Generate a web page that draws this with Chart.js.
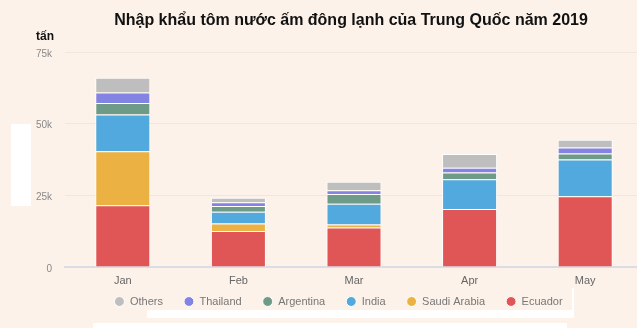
<!DOCTYPE html>
<html>
<head>
<meta charset="utf-8">
<script src="https://cdn.jsdelivr.net/npm/chart.js@4/dist/chart.umd.min.js"></script>
<style>
  html, body { margin: 0; padding: 0; background: #fdf2e9; overflow: hidden; }
  #wrap { position: absolute; left: 0; top: 0; width: 643px; height: 328px; }
  .blank { position: absolute; background: #ffffff; }
</style>
</head>
<body>
<div id="wrap"><canvas id="c"></canvas></div>
<div class="blank" style="left:11px;top:124px;width:20px;height:82px;"></div>
<div class="blank" style="left:147px;top:310px;width:426px;height:8px;"></div>
<div class="blank" style="left:572px;top:288px;width:2px;height:30px;"></div>
<div class="blank" style="left:93px;top:323px;width:474px;height:5px;"></div>
<script>
const months = ['Jan', 'Feb', 'Mar', 'Apr', 'May'];
const title = 'Nhập khẩu tôm nước ấm đông lạnh của Trung Quốc năm 2019';
const unitLabel = 'tấn';
const yTicks = [0, 25000, 50000, 75000];

// Imports in tonnes by origin
const ecuador     = [21500, 12600, 13800, 20200, 24700];
const saudiArabia = [18900,  2600,  1000,     0,     0];
const india       = [12800,  4100,  7300, 10400, 12800];
const argentina   = [ 4000,  2000,  3400,  2400,  2100];
const thailand    = [ 3700,  1300,  1300,  1600,  2100];
const others      = [ 5100,  1600,  2900,  4800,  2700];

const series = [
  { label: 'Ecuador',      data: ecuador,     color: '#e05656' },
  { label: 'Saudi Arabia', data: saudiArabia, color: '#ecb143' },
  { label: 'India',        data: india,       color: '#51a9dd' },
  { label: 'Argentina',    data: argentina,   color: '#6e9b87' },
  { label: 'Thailand',     data: thailand,    color: '#8383e3' },
  { label: 'Others',       data: others,      color: '#bebebe' }
];

const FONT = '"Liberation Sans", Arial, sans-serif';

// Title and unit caption above the plot
const headerText = {
  id: 'headerText',
  afterDraw(chart) {
    const ctx = chart.ctx;
    ctx.save();
    ctx.fillStyle = '#111';
    ctx.textAlign = 'center';
    ctx.textBaseline = 'middle';
    ctx.font = 'bold 16px ' + FONT;
    ctx.fillText(title, 351, 21);
    ctx.font = 'bold 12px ' + FONT;
    ctx.fillText(unitLabel, 45, 37);
    ctx.restore();
  }
};

// Pull the legend row up so it sits close under the month labels
const legendLift = {
  id: 'legendLift',
  afterLayout(chart) {
    const lg = chart.legend;
    if (lg) { lg.top -= 13; lg.bottom -= 13; }
  }
};

new Chart(document.getElementById('c'), {
  type: 'bar',
  data: {
    labels: months,
    datasets: series.map(s => ({
      label: s.label,
      data: s.data,
      backgroundColor: s.color,
      borderColor: '#ffffff',
      borderWidth: 1,
      categoryPercentage: 1,
      barPercentage: 0.476
    }))
  },
  options: {
    responsive: true,
    maintainAspectRatio: false,
    animation: false,
    layout: { padding: { left: 34, right: 0, top: 52, bottom: -2 } },
    plugins: {
      title: { display: false },
      tooltip: { enabled: false },
      legend: {
        position: 'bottom',
        reverse: true,
        labels: {
          usePointStyle: true,
          pointStyle: 'circle',
          boxWidth: 10,
          boxHeight: 7,
          padding: 21,
          color: '#777',
          font: { family: FONT, size: 11 }
        }
      }
    },
    scales: {
      x: {
        stacked: true,
        grid: { display: false, drawTicks: false },
        border: { display: true, color: '#dcdde4', width: 2 },
        ticks: {
          padding: 7,
          color: '#666',
          font: { family: FONT, size: 11 }
        },
        afterFit(scale) { scale.height = 21; }
      },
      y: {
        stacked: true,
        min: 0,
        max: 75000,
        afterBuildTicks(scale) { scale.ticks = yTicks.map(v => ({ value: v })); },
        grid: {
          drawTicks: false,
          color: ctx => ctx.tick && ctx.tick.value === 0 ? 'rgba(0,0,0,0)' : '#efe6de',
          lineWidth: 1
        },
        border: { display: false },
        ticks: {
          padding: 13,
          labelOffset: 2,
          color: '#888',
          font: { family: FONT, size: 10 },
          callback: v => v === 0 ? '0' : (v / 1000) + 'k'
        },
        afterFit(scale) { scale.width = 31; }
      }
    }
  },
  plugins: [headerText, legendLift]
});
</script>
</body>
</html>
